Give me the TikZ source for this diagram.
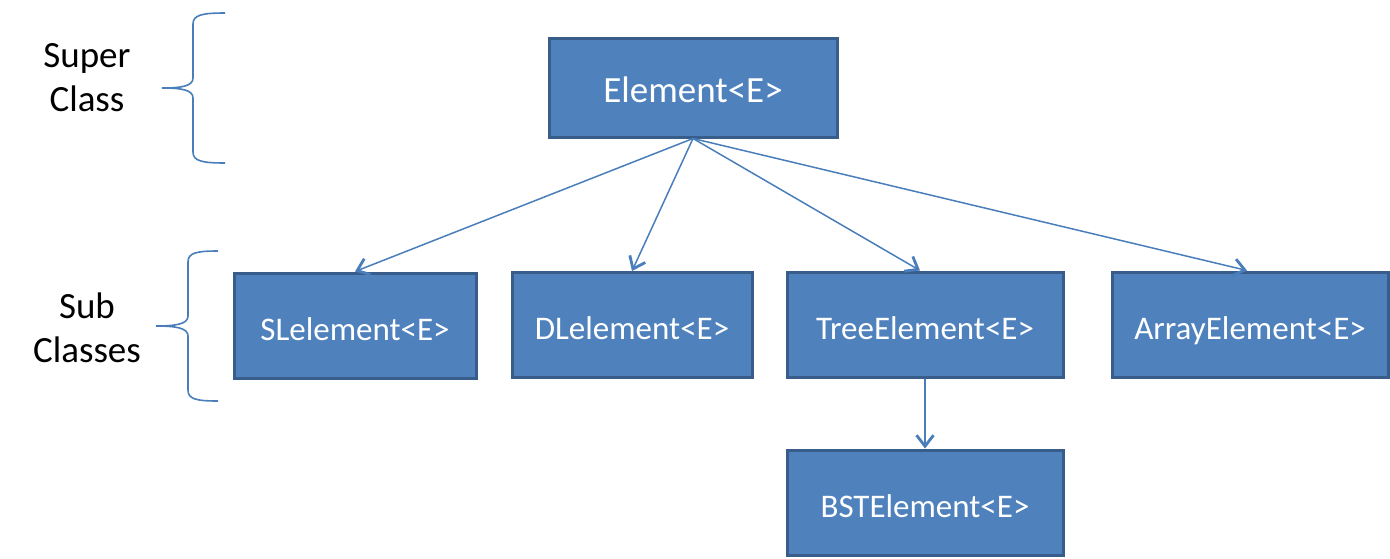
\documentclass[tikz,border=0pt]{standalone}
\usepackage{fontspec}
\setmainfont{Carlito}
\usetikzlibrary{arrows.meta}
\definecolor{boxfill}{HTML}{4F81BD}
\definecolor{boxline}{HTML}{385D8A}
\definecolor{conn}{HTML}{4A7EBB}
\begin{document}
\begin{tikzpicture}[x=0.5pt,y=-0.5pt,
  cls/.style={draw=boxline, fill=boxfill, line width=1.5pt, text=white,
    font=\fontsize{18.5}{22}\selectfont, inner sep=0pt,
    text height=14.5pt, text depth=0pt},
  subcls/.style={cls, font=\fontsize{16.5}{20}\selectfont,
    minimum height=52.5pt},
  link/.style={draw=conn, line width=0.75pt,
    -{Straight Barb[length=5.5pt,width=8.5pt,line width=1.4pt]}},
  bracepath/.style={draw=conn, line width=0.8pt},
  lab/.style={font=\fontsize{18.5}{22}\selectfont, anchor=base, inner sep=0pt}]
\useasboundingbox (0,0) rectangle (1390,558);

\node[cls, minimum width=144pt, minimum height=49.5pt] (el) at (693,87.5) {Element<E>};
\node[subcls, minimum width=121pt] (sl) at (355,325.5) {SLelement<E>};
\node[subcls, minimum width=120pt] (dl) at (632,325) {DLelement<E>};
\node[subcls, minimum width=138pt] (tree) at (925,324.5) {TreeElement<E>};
\node[subcls, minimum width=138pt] (arr) at (1250,324.5) {ArrayElement<E>};
\node[subcls, minimum width=138pt] (bst) at (925,502.5) {BSTElement<E>};

\draw[link] (el.south) -- (sl.north);
\draw[link] (el.south) -- (dl.north);
\draw[link] (el.south) -- ([xshift=-2.5pt]tree.north);
\draw[link] (el.south) -- ([xshift=-1.5pt]arr.north);
\draw[link] (tree.south) -- (bst.north);

\node[lab] (super) at (87,67) {Super};
\node[lab] (class) at (87,111) {Class};
\node[lab] (sub) at (87,318) {Sub};
\node[lab] (classes) at (87,362) {Classes};

\draw[bracepath] (225,13) .. controls (202,13) and (193,15) .. (193,24) -- (193,78)
  .. controls (193,86) and (182,88) .. (162,88)
  .. controls (182,88) and (193,90) .. (193,98) -- (193,152)
  .. controls (193,161) and (202,163) .. (225,163);
\draw[bracepath] (218,251) .. controls (196,251) and (188,253) .. (188,262) -- (188,316)
  .. controls (188,324) and (176,326) .. (156,326)
  .. controls (176,326) and (188,328) .. (188,336) -- (188,390)
  .. controls (188,399) and (196,401) .. (218,401);
\end{tikzpicture}
\end{document}
